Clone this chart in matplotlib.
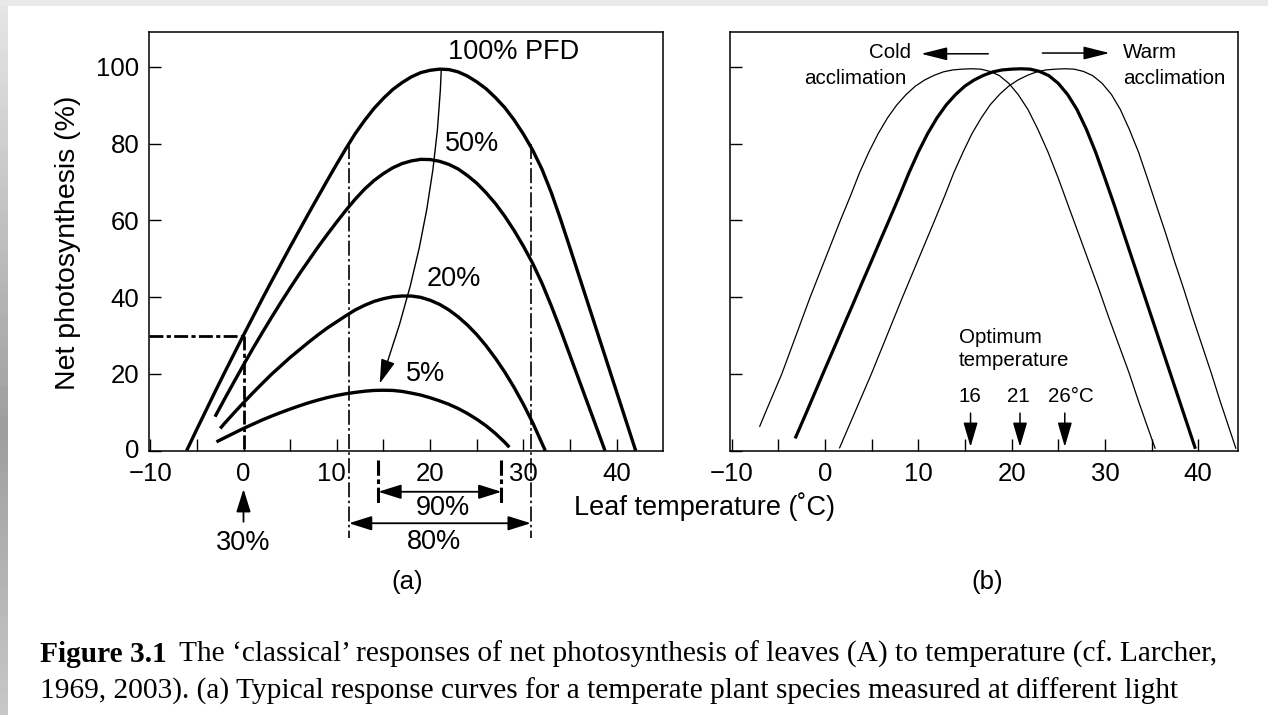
import matplotlib
matplotlib.use("Agg")
import matplotlib.pyplot as plt
import matplotlib.transforms as mtransforms
import numpy as np

plt.rcParams['font.family'] = ['Liberation Sans', 'DejaVu Sans']

# ---------------- data: panel (a) ----------------
pfd100_T = [-6.1, -6, -5, -4, -3, -2, -1, 0, 1, 2, 3, 4, 5, 6, 7, 8, 9, 10, 11, 12, 13, 14, 15, 16, 17,
            18, 19, 20, 21, 22, 23, 24, 25, 26, 27, 28, 29, 30, 31, 32, 33, 34, 35, 36, 37, 38, 39, 40, 41, 42, 42.05]
pfd100_A = [0, 0.5, 5.6, 10.6, 15.6, 20.5, 25.3, 30.1, 34.8, 39.5, 44.1, 48.6, 53.1, 57.5, 61.9, 66.2, 70.5,
            74.7, 78.8, 82.7, 86.1, 89.2, 91.8, 94.1, 95.9, 97.4, 98.5, 99.1, 99.4, 99.3, 98.7, 97.6, 96.1,
            94.3, 92.0, 89.4, 86.2, 82.5, 78.3, 73.3, 67.2, 60.2, 52.8, 45.3, 37.8, 30.3, 22.8, 15.3, 7.8, 0.3, 0]

pfd50_T = [-3.05, -3, -2, -1, 0, 1, 2, 3, 4, 5, 6, 7, 8, 9, 10, 11, 12, 13, 14, 15, 16, 17, 18, 19, 20,
           21, 22, 23, 24, 25, 26, 27, 28, 29, 30, 31, 32, 33, 34, 35, 36, 37, 38, 38.75]
pfd50_A = [8.85, 9.1, 13.6, 18.0, 22.35, 26.6, 30.7, 34.7, 38.6, 42.4, 46.1, 49.6, 53.1, 56.4, 59.6, 62.7,
           65.6, 68.2, 70.4, 72.2, 73.7, 74.8, 75.5, 75.9, 75.85, 75.4, 74.6, 73.4, 71.7, 69.7, 67.2, 64.4,
           61.1, 57.4, 53.3, 48.8, 43.6, 37.7, 31.4, 24.8, 18.2, 11.6, 5.0, 0]

pfd20_T = [-2.5, -2, -1, 0, 1, 2, 3, 4, 5, 6, 7, 8, 9, 10, 11, 12, 13, 14, 15, 16, 17, 18, 19, 20, 21, 22,
           23, 24, 25, 26, 27, 28, 29, 30, 31, 32, 32.35]
pfd20_A = [5.8, 7.2, 9.9, 12.5, 15.05, 17.5, 19.9, 22.1, 24.3, 26.3, 28.3, 30.2, 32.0, 33.6, 35.2, 36.7, 37.9,
           38.9, 39.6, 40.1, 40.3, 40.3, 39.95, 39.2, 38.15, 36.7, 34.9, 32.75, 30.25, 27.35, 24.1, 20.5,
           16.5, 12.1, 7.3, 1.9, 0]

pfd5_T = [-2.9, -2, -1, 0, 1, 2, 3, 4, 5, 6, 7, 8, 9, 10, 11, 12, 13, 14, 15, 16, 17, 18, 19, 20, 21, 22,
          23, 24, 25, 26, 27, 28, 28.5]
pfd5_A = [2.3, 3.4, 4.6, 5.8, 6.9, 8.0, 9.0, 9.95, 10.85, 11.7, 12.5, 13.2, 13.85, 14.4, 14.85, 15.2, 15.5,
          15.7, 15.75, 15.7, 15.45, 15.0, 14.5, 13.8, 13.0, 12.1, 11.0, 9.7, 8.2, 6.5, 4.5, 2.2, 0.9]

curve_labels = ["100% PFD", "50%", "20%", "5%"]

band80_T = [11.3, 30.8]      # 80 % of maximum
band90_T = [14.45, 27.65]    # 90 % of maximum
chill_T, chill_A = 0, 30     # 30 % at 0 degC

# ---------------- data: panel (b) ----------------
cold_T = [-7.02, -6.37, -4.63, -3.11, -1.59, 0.03, 1.65, 2.75, 3.7, 4.7, 5.7, 6.7, 7.7, 8.7, 9.7, 10.7, 11.7,
          12.7, 13.7, 14.7, 15.7, 16.7, 17.7, 18.7, 19.7, 20.7, 21.75, 22.8, 23.9, 25.0, 26.05, 27.15, 28.25,
          29.35, 30.4, 31.5, 32.6, 33.6, 34.65, 35.4]
cold_A = [6.2, 10, 20, 30, 40, 50, 60, 66.5, 72.4, 77.8, 82.6, 86.7, 90.1, 92.8, 95.0, 96.6, 97.8, 98.7, 99.2,
          99.4, 99.5, 99.4, 98.8, 97.7, 95.7, 92.8, 88.9, 83.8, 77.8, 71.0, 64.0, 56.7, 49.4, 42.1, 34.8, 27.5,
          20.2, 12.9, 5.6, 0.5]

mid_T = [-3.2, -3, -2, -1, 0, 1, 2, 3, 4, 5, 6, 7, 8, 9, 10, 11, 12, 13, 14, 15, 16, 17, 18, 19, 20, 21,
         22, 23, 24, 25, 26, 27, 28, 29, 30, 31, 32, 33, 34, 35, 36, 37, 38, 39, 39.7]
mid_A = [3.2, 4.3, 9.9, 15.6, 21.3, 26.9, 32.6, 38.2, 43.9, 49.5, 55.2, 60.8, 66.5, 72.4, 77.8, 82.6, 86.7,
         90.1, 92.8, 95.0, 96.6, 97.8, 98.7, 99.2, 99.4, 99.5, 99.4, 98.8, 97.7, 95.7, 92.8, 88.9, 83.8, 77.8,
         71.0, 64.0, 56.7, 49.4, 42.1, 34.8, 27.5, 20.2, 12.9, 5.6, 0.5]

warm_T = [1.54, 2.0, 3.2, 4.97, 6.64, 8.31, 10.03, 11.75, 12.85, 13.8, 14.8, 15.75, 16.75, 17.7, 18.7, 19.7,
          20.7, 21.7, 22.7, 23.7, 24.7, 25.7, 26.7, 27.7, 28.7, 29.7, 30.7, 31.65, 32.6, 33.6, 34.55, 35.5,
          36.5, 37.45, 38.45, 39.4, 40.4, 41.4, 42.35, 43.35, 44.05]
warm_A = [0.6, 3.2, 10, 20, 30, 40, 50, 60, 66.5, 72.4, 77.8, 82.6, 86.7, 90.1, 92.8, 95.0, 96.6, 97.8, 98.7,
          99.2, 99.4, 99.5, 99.4, 98.8, 97.7, 95.7, 92.8, 88.9, 83.8, 77.8, 71.0, 64.0, 56.7, 49.4, 42.1, 34.8,
          27.5, 20.2, 12.9, 5.6, 0.5]

opt_labels = ["16", "21", "26°C"]
opt_arrow_T = [15.6, 20.9, 25.7]

xticks = list(range(-10, 45, 5))
xticklabels = ["\u221210", "", "0", "", "10", "", "20", "", "30", "", "40"]
yticks = [0, 20, 40, 60, 80, 100]

# ---------------- figure ----------------
W, H = 1268, 715
fig = plt.figure(figsize=(W / 100, H / 100), dpi=100)
fig.patch.set_facecolor('white')

# scanned-page edges
edge = fig.add_axes([0, 0, 7 / W, 1])
grad = np.concatenate([np.linspace(0.90, 0.62, 60), np.linspace(0.62, 0.78, 40)])[:, None]
edge.imshow(grad, aspect='auto', cmap='gray', vmin=0, vmax=1, extent=[0, 1, 0, 1])
edge.axis('off')
top = fig.add_axes([0, 1 - 6 / H, 1, 6 / H])
top.set_facecolor('#e9e9e9')
top.set_xticks([]); top.set_yticks([])
for s in top.spines.values():
    s.set_visible(False)

ax_y0 = 1 - 450.7 / H
ax_h = (450.7 - 32.3) / H
axa = fig.add_axes([149 / W, ax_y0, (663.3 - 149) / W, ax_h])
axb = fig.add_axes([730 / W, ax_y0, (1237.7 - 730) / W, ax_h])

TS = 18.5   # tick label size
FS = 19.5   # annotation size

for ax in (axa, axb):
    ax.set_ylim(0, 109)
    ax.set_xticks(xticks)
    ax.set_yticks(yticks)
    ax.tick_params(direction='in', length=8.5, width=1.0, labelsize=TS)
    ax.tick_params(axis='x', pad=8)
    ax.tick_params(axis='y', pad=7)
    for s in ax.spines.values():
        s.set_linewidth(1.1)
    ax.set_facecolor('none')

axa.set_xlim(-10.13, 45.0)
axb.set_xlim(-10.18, 44.23)
axa.set_xticklabels(xticklabels)
axb.set_xticklabels(xticklabels)
axa.set_yticklabels([str(v) for v in yticks])
axb.set_yticklabels([])


def nudge(label, dx_px, dy_px):
    label.set_transform(label.get_transform() +
                        mtransforms.ScaledTranslation(dx_px / 100, dy_px / 100, fig.dpi_scale_trans))


# "0" y label a touch up, "10" x label a touch left of the dash-dot line (as in the original)
nudge(axa.get_yticklabels()[0], 0, 2)
nudge(axa.get_xticklabels()[4], -5, 0)

# ---- panel (a) curves ----
lw_main = 2.4
for T, A in [(pfd100_T, pfd100_A), (pfd50_T, pfd50_A), (pfd20_T, pfd20_A), (pfd5_T, pfd5_A)]:
    axa.plot(T, A, color='black', lw=lw_main, solid_capstyle='butt', solid_joinstyle='round')

axa.text(21.9, 103.8, curve_labels[0], fontsize=FS, ha='left', va='center')
axa.text(24.5, 79.9, curve_labels[1], fontsize=FS, ha='center', va='center')
axa.text(22.55, 44.7, curve_labels[2], fontsize=FS, ha='center', va='center')
axa.text(19.55, 20.0, curve_labels[3], fontsize=FS, ha='center', va='center')

# curved arrow of decreasing light
axa.annotate('', xy=(14.6, 17.5), xytext=(21.2, 99.3),
             arrowprops=dict(arrowstyle='-|>,head_length=0.75,head_width=0.22',
                             lw=1.0, color='black', shrinkA=0, shrinkB=0,
                             connectionstyle='arc3,rad=-0.08', mutation_scale=20))

# 30 % at 0 degC
dd_thick = (0, (5, 1.2, 1.5, 1.2))
axa.plot([-10.13, chill_T], [chill_A, chill_A], color='black', lw=2.0, ls=dd_thick, clip_on=False)
axa.plot([chill_T, chill_T], [chill_A, 0], color='black', lw=2.0, ls=dd_thick, clip_on=False)

# 80 % band: vertical dash-dot lines reaching below the axis
dd_thin = (0, (9, 2, 1.5, 2))
for t in band80_T:
    axa.plot([t, t], [80, -22.7], color='black', lw=1.2, ls=dd_thin, clip_on=False)
# 90 % band markers below the axis
for t in band90_T:
    axa.plot([t, t], [-2.4, -13.7], color='black', lw=2.2, ls=(0, (5, 1.2, 1.5, 1.2)), clip_on=False)

arrow_kw = dict(arrowstyle='<|-|>,head_length=0.7,head_width=0.22', lw=1.3,
                color='black', shrinkA=0, shrinkB=0, mutation_scale=20)
axa.annotate('', xy=(band90_T[0], -10.7), xytext=(band90_T[1], -10.7),
             arrowprops=arrow_kw, annotation_clip=False)
axa.annotate('', xy=(band80_T[0], -18.9), xytext=(band80_T[1], -18.9),
             arrowprops=arrow_kw, annotation_clip=False)
axa.text(np.mean(band90_T) + 0.3, -15.0, "90%", fontsize=FS, ha='center', va='center', clip_on=False)
axa.text(np.mean(band80_T) - 0.6, -23.7, "80%", fontsize=FS, ha='center', va='center', clip_on=False)

axa.annotate('', xy=(chill_T, -10.0), xytext=(chill_T, -18.5),
             arrowprops=dict(arrowstyle='-|>,head_length=0.7,head_width=0.22', lw=1.3,
                             color='black', shrinkA=0, shrinkB=0, mutation_scale=20),
             annotation_clip=False)
axa.text(chill_T, -24.1, "30%", fontsize=FS, ha='center', va='center', clip_on=False)

# ---- panel (b) curves ----
axb.plot(cold_T, cold_A, color='black', lw=0.9, solid_capstyle='butt', solid_joinstyle='round')
axb.plot(mid_T, mid_A, color='black', lw=2.3, solid_capstyle='butt', solid_joinstyle='round')
axb.plot(warm_T, warm_A, color='black', lw=0.9, solid_capstyle='butt', solid_joinstyle='round')

SS = 14.8
axb.text(9.2, 103.8, "Cold", fontsize=SS, ha='right', va='center')
axb.text(8.7, 97.0, "acclimation", fontsize=SS, ha='right', va='center')
axb.text(31.9, 103.8, "Warm", fontsize=SS, ha='left', va='center')
axb.text(31.9, 97.0, "acclimation", fontsize=SS, ha='left', va='center')
small_arrow = dict(arrowstyle='-|>,head_length=0.8,head_width=0.2', lw=1.1,
                   color='black', shrinkA=0, shrinkB=0, mutation_scale=20)
axb.annotate('', xy=(10.3, 103.4), xytext=(17.5, 103.4), arrowprops=small_arrow, annotation_clip=False)
axb.annotate('', xy=(30.5, 103.6), xytext=(23.3, 103.6), arrowprops=small_arrow, annotation_clip=False)

axb.text(14.35, 29.6, "Optimum", fontsize=SS, ha='left', va='center')
axb.text(14.35, 23.6, "temperature", fontsize=SS, ha='left', va='center')
axb.text(opt_arrow_T[0] - 0.1, 14.2, opt_labels[0], fontsize=SS, ha='center', va='center')
axb.text(opt_arrow_T[1] - 0.2, 14.2, opt_labels[1], fontsize=SS, ha='center', va='center')
axb.text(23.95, 14.2, opt_labels[2], fontsize=SS, ha='left', va='center')
for t in opt_arrow_T:
    axb.annotate('', xy=(t, 1.0), xytext=(t, 9.8),
                 arrowprops=dict(arrowstyle='-|>,head_length=0.75,head_width=0.22', lw=1.1,
                                 color='black', shrinkA=0, shrinkB=0, mutation_scale=20))

# ---- figure-level labels ----
fig.text(68 / W, 1 - 242.5 / H, "Net photosynthesis (%)", rotation=90, fontsize=20.5,
         ha='center', va='center')
fig.text(704 / W, 1 - 506.7 / H, "Leaf temperature (\u02daC)", fontsize=19.5, ha='center', va='center')
fig.text(406.7 / W, 1 - 581.7 / H, "(a)", fontsize=18.5, ha='center', va='center')
fig.text(986.7 / W, 1 - 581.7 / H, "(b)", fontsize=18.5, ha='center', va='center')

# ---- caption ----
CAP = 21.2
serif = ['Liberation Serif', 'DejaVu Serif']
tb = fig.text(40 / W, 1 - 661.5 / H, "Figure 3.1", fontsize=CAP, fontweight='bold',
              family=serif, ha='left', va='baseline')
axb.annotate("The \u2018classical\u2019 responses of net photosynthesis of leaves (A) to temperature (cf. Larcher,",
             xy=(1, 0), xycoords=tb, xytext=(9, 0), textcoords='offset points',
             fontsize=CAP, family=serif, ha='left', va='bottom', annotation_clip=False)
fig.text(40 / W, 1 - 699 / H,
         "1969, 2003). (a) Typical response curves for a temperate plant species measured at different light",
         fontsize=CAP, family=serif, ha='left', va='baseline')

fig.savefig("out.png", dpi=100, facecolor='white')
